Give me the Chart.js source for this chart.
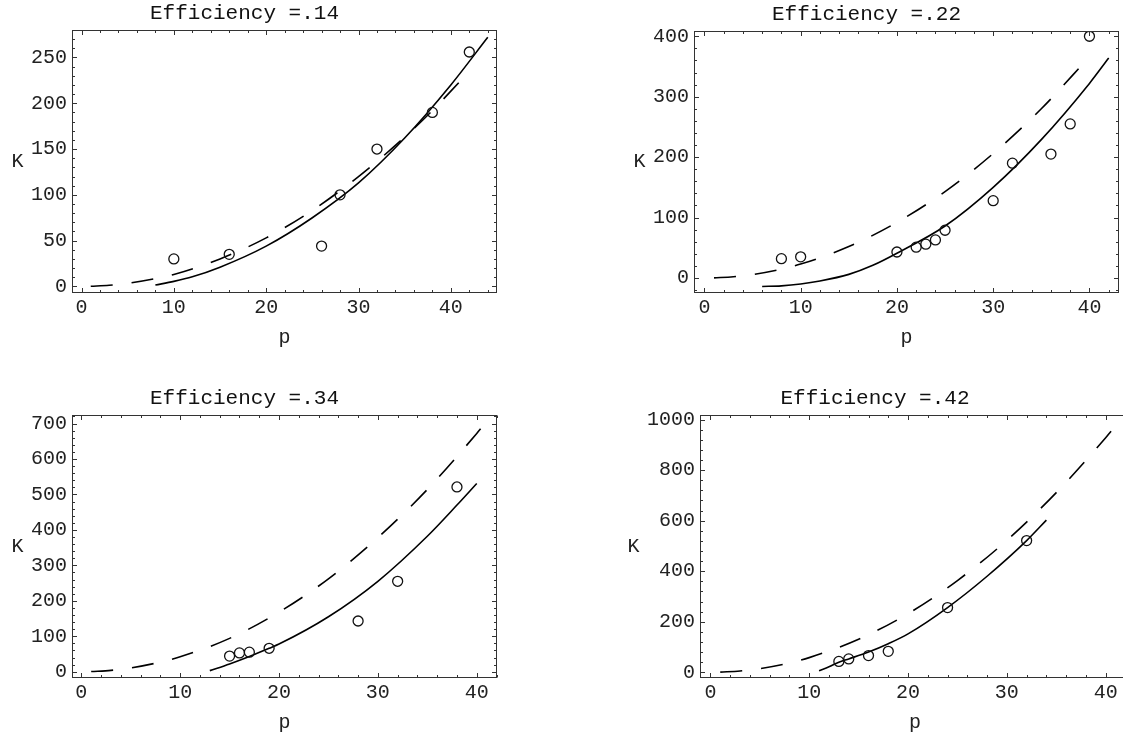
<!DOCTYPE html>
<html><head><meta charset="utf-8">
<script src="https://cdn.jsdelivr.net/npm/chart.js@4.4.1/dist/chart.umd.min.js"></script>
<style>
html,body{margin:0;padding:0;background:#fff;width:1123px;height:736px;overflow:hidden;position:relative;}
.box{position:absolute;}
canvas{display:block;}
</style></head><body>
<div class="box" id="b1"><canvas id="c1"></canvas></div>
<div class="box" id="b2"><canvas id="c2"></canvas></div>
<div class="box" id="b3"><canvas id="c3"></canvas></div>
<div class="box" id="b4"><canvas id="c4"></canvas></div>
<script>
// ---------- data ----------
const titles = ['Efficiency =.14', 'Efficiency =.22', 'Efficiency =.34', 'Efficiency =.42'];
const xLabel = 'p';
const yLabel = 'K';

const xTicks = [0, 10, 20, 30, 40];
const yTicks1 = [0, 50, 100, 150, 200, 250];
const yTicks2 = [0, 100, 200, 300, 400];
const yTicks3 = [0, 100, 200, 300, 400, 500, 600, 700];
const yTicks4 = [0, 200, 400, 600, 800, 1000];

// chart 1 (Efficiency .14)
const obsP1 = [10, 16, 26, 28, 32, 38, 42];
const obsK1 = [30, 35, 44, 100, 150, 190, 256];
const solidP1 = [8, 10, 12, 15, 20, 25, 30, 35, 40, 44];
const solidK1 = [1.5, 5.5, 10.5, 21, 44, 75, 113, 162, 220, 272];
const dashP1 = [1, 3, 5, 8, 10, 15, 20, 25, 30, 35, 38, 41];
const dashK1 = [0.1, 1.2, 3.3, 8.5, 13, 30, 53, 83, 120, 163, 192, 224];

// chart 2 (Efficiency .22)
const obsP2 = [8, 10, 20, 22, 23, 24, 25, 30, 32, 36, 38, 40];
const obsK2 = [32, 35, 43, 51, 56, 63, 79, 128, 190, 205, 255, 400];
const solidP2 = [6, 8, 10, 12, 15, 17.5, 20, 25, 30, 35, 40, 42];
const solidK2 = [-14, -13, -10, -5, 6, 21, 41, 86, 150, 229, 322, 364];
const dashP2 = [1, 3, 5, 8, 10, 15, 20, 25, 30, 35, 40];
const dashK2 = [0.2, 2, 5.7, 14.7, 23, 52, 92, 143, 206, 280, 366];

// chart 3 (Efficiency .34)
const obsP3 = [15, 16, 17, 19, 28, 32, 38];
const obsK3 = [44, 53, 55, 66, 143, 255, 521];
const solidP3 = [13, 15, 17, 19, 20, 25, 30, 35, 38, 40];
const solidK3 = [3, 22, 43, 66, 78, 155, 255, 382, 470, 531];
const dashP3 = [1, 3, 5, 8, 10, 15, 20, 25, 30, 35, 40, 41];
const dashK3 = [0.4, 3.8, 10.5, 27, 42, 94, 168, 262, 378, 514, 672, 706];

// chart 4 (Efficiency .42)
const obsP4 = [13, 14, 16, 18, 24, 32];
const obsK4 = [43, 53, 66, 83, 256, 521];
const solidP4 = [11, 12, 13, 14, 16, 18, 20, 24, 28, 32, 34];
const solidK4 = [6, 22, 40, 53, 80, 113, 152, 256, 380, 521, 602];
const dashP4 = [1, 3, 5, 8, 10, 15, 20, 25, 30, 35, 40, 41.5];
const dashK4 = [0.6, 5.2, 14.5, 37, 58, 131, 232, 363, 522, 711, 928, 999];

// ---------- layout / style ----------
const FONT = "'Liberation Mono', 'Courier New', monospace";
const YW = 80, TH = 30, XH = 60;
const panels = [
  {id: 1, L: 72,  R: 497,  T: 30,  B: 293, xr: [-1.03, 45.0],  yr: [-7.2, 280],   yt: yTicks1, ym: 10, title: titles[0],
   obs: [obsP1, obsK1], solid: [solidP1, solidK1], dash: [dashP1, dashK1]},
  {id: 2, L: 694, R: 1119, T: 31,  B: 293, xr: [-1.08, 43.07], yr: [-24.8, 408.7], yt: yTicks2, ym: 20, title: titles[1],
   obs: [obsP2, obsK2], solid: [solidP2, solidK2], dash: [dashP2, dashK2]},
  {id: 3, L: 72,  R: 497,  T: 415, B: 678, xr: [-0.94, 42.05], yr: [-17.8, 724],   yt: yTicks3, ym: 20, title: titles[2],
   obs: [obsP3, obsK3], solid: [solidP3, solidK3], dash: [dashP3, dashK3]},
  {id: 4, L: 700, R: 1130, T: 415, B: 678, xr: [-1.05, 42.46], yr: [-22.6, 1018],  yt: yTicks4, ym: 40, title: titles[3],
   obs: [obsP4, obsK4], solid: [solidP4, solidK4], dash: [dashP4, dashK4]}
];

function pts(arr) { return arr[0].map((p, i) => ({x: p, y: arr[1][i]})); }

const frameTicks = {
  id: 'frameTicks',
  afterDraw(chart, args, o) {
    const ctx = chart.ctx, a = chart.chartArea, xs = chart.scales.x, ys = chart.scales.y;
    ctx.save();
    ctx.strokeStyle = '#333';
    ctx.lineWidth = 1;
    const l = Math.round(a.left) + 0.5, r = Math.round(a.right) - 0.5, t = Math.round(a.top) + 0.5, b = Math.round(a.bottom) - 0.5;
    ctx.strokeRect(l, t, r - l, b - t);
    const line = (x1, y1, x2, y2) => { ctx.beginPath(); ctx.moveTo(x1, y1); ctx.lineTo(x2, y2); ctx.stroke(); };
    for (let v = Math.ceil(xs.min / 2) * 2; v <= xs.max; v += 2) {
      const px = Math.round(xs.getPixelForValue(v)) + 0.5;
      const len = (v % 10 === 0) ? 4.5 : 2.5;
      line(px, b, px, b - len); line(px, t, px, t + len);
    }
    for (let v = Math.ceil(ys.min / o.ym) * o.ym; v <= ys.max; v += o.ym) {
      const py = Math.round(ys.getPixelForValue(v)) + 0.5;
      const len = o.yt.includes(v) ? 4.5 : 2.5;
      line(l, py, l + len, py); line(r, py, r - len, py);
    }
    ctx.font = '20px ' + FONT;
    let w = 0;
    o.yt.forEach(v => { w = Math.max(w, ctx.measureText(String(v)).width); });
    ctx.fillStyle = '#222';
    ctx.textAlign = 'center';
    ctx.textBaseline = 'middle';
    ctx.fillText(yLabel, a.left - 5 - w - 13.5, (a.top + a.bottom) / 2);
    ctx.restore();
  }
};

panels.forEach(P => {
  const box = document.getElementById('b' + P.id);
  const cv = document.getElementById('c' + P.id);
  const w = P.R - P.L + 2 * YW, h = P.B - P.T + TH + XH;
  box.style.left = (P.L - YW) + 'px';
  box.style.top = (P.T - TH) + 'px';
  cv.width = w; cv.height = h;
  cv.style.width = w + 'px'; cv.style.height = h + 'px';
  const tickFont = {family: FONT, size: 20};
  new Chart(cv, {
    type: 'scatter',
    data: {
      datasets: [
        {data: pts(P.obs), showLine: false, pointStyle: 'circle', pointRadius: 5, pointHoverRadius: 5,
         backgroundColor: 'rgba(0,0,0,0)', borderColor: '#111', borderWidth: 1.3},
        {data: pts(P.solid), showLine: true, pointRadius: 0, borderColor: '#000', borderWidth: 1.6,
         cubicInterpolationMode: 'monotone', fill: false},
        {data: pts(P.dash), showLine: true, pointRadius: 0, borderColor: '#000', borderWidth: 1.6,
         borderDash: [22, 19], cubicInterpolationMode: 'monotone', fill: false}
      ]
    },
    options: {
      responsive: false,
      animation: false,
      events: [],
      layout: {padding: {left: 0, right: YW, top: 0, bottom: 0}, autoPadding: false},
      plugins: {
        legend: {display: false},
        tooltip: {enabled: false},
        title: {display: true, text: P.title, color: '#111',
                font: {family: FONT, size: 21, weight: 'normal'}, padding: {top: 0.5, bottom: 4.3}},
        frameTicks: {ym: P.ym, yt: P.yt}
      },
      scales: {
        x: {
          type: 'linear', min: P.xr[0], max: P.xr[1],
          afterBuildTicks: s => { s.ticks = xTicks.map(v => ({value: v})); },
          afterFit: s => { s.height = XH; },
          ticks: {font: tickFont, color: '#222', padding: 3, maxRotation: 0, autoSkip: false, callback: v => String(v)},
          grid: {display: false, drawTicks: false},
          border: {display: false},
          title: {display: true, text: xLabel, color: '#222', font: {family: FONT, size: 20}, padding: {top: 0, bottom: 3}}
        },
        y: {
          type: 'linear', min: P.yr[0], max: P.yr[1],
          afterBuildTicks: s => { s.ticks = P.yt.map(v => ({value: v})); },
          afterFit: s => { s.width = YW; },
          ticks: {font: tickFont, color: '#222', padding: 5, autoSkip: false, callback: v => String(v)},
          grid: {display: false, drawTicks: false},
          border: {display: false}
        }
      }
    },
    plugins: [frameTicks]
  });
});
</script>
</body></html>
